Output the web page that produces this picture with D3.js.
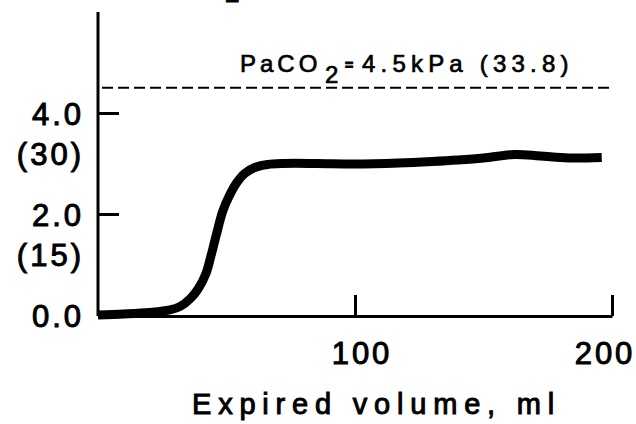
<!DOCTYPE html>
<html>
<head>
<meta charset="utf-8">
<script src="https://cdn.jsdelivr.net/npm/d3@7"></script>
<style>
    body { margin: 0; background: #fff; }
    svg { display: block; font-family: "Liberation Sans", Arial, sans-serif; }
</style>
</head>
<body>
<div id="chart"></div>
<script>
'use strict';

// expired volume (ml) vs PCO2 (kPa)
var volume = [0, 10, 20, 28, 32, 36, 39, 42, 44, 46, 48.5, 51, 54, 57, 61, 66, 72, 85, 100, 117, 130, 140, 150, 162, 172, 183, 196];
var pco2 = [0, 0.02, 0.05, 0.1, 0.17, 0.33, 0.52, 0.82, 1.18, 1.58, 2.05, 2.35, 2.62, 2.8, 2.92, 2.98, 3.0, 3.0, 2.99, 3.01, 3.04, 3.07, 3.11, 3.18, 3.15, 3.11, 3.12];

var xTicks = [100, 200];
var xTickShift = [5, -9];
var yTicks = [0, 2, 4];
var yTickLabels = ['0.0', '2.0', '4.0'];
var yMmHgLabels = ['', '(15)', '(30)'];

var paco2 = 4.5;
var xTitle = 'Expired volume, ml';

var width = 636,
    height = 424;

var x = d3.scaleLinear()
    .domain([0, 200])
    .range([98, 612]);

var y = d3.scaleLinear()
    .domain([0, 6])
    .range([315, 12]);

var svg = d3.select('#chart').append('svg')
    .attr('width', width)
    .attr('height', height);

function inkText(sel, size, spacing) {
    sel.attr('font-size', size)
        .attr('letter-spacing', spacing)
        .attr('fill', '#000')
        .attr('stroke', '#000')
        .attr('stroke-width', 1);
}

// cut-off title, only the foot of its subscript shows
svg.append('text')
    .attr('x', 225)
    .attr('y', 2)
    .call(inkText, 26, 0)
    .text('2');

// y axis
var yAxis = svg.append('g')
    .attr('transform', 'translate(' + x(0) + ',0)')
    .call(d3.axisLeft(y)
        .tickValues(yTicks)
        .tickSize(-21)
        .tickSizeOuter(0)
        .tickPadding(14)
        .tickFormat(function (d, i) { return yTickLabels[i]; }));

yAxis.select('.domain')
    .attr('d', 'M0,' + y(6) + 'V' + (y(0) + 1))
    .attr('stroke-width', 3);
yAxis.selectAll('.tick line').attr('stroke-width', 3);
yAxis.selectAll('.tick text')
    .call(inkText, 31, 3)
    .attr('dy', '0.36em');

yAxis.selectAll('.tick').append('text')
    .attr('x', -14)
    .attr('dy', '1.66em')
    .attr('text-anchor', 'end')
    .call(inkText, 31, 3)
    .text(function (d, i) { return yMmHgLabels[i]; });

// x axis
var xAxis = svg.append('g')
    .attr('transform', 'translate(0,' + (y(0) + 1) + ')')
    .call(d3.axisBottom(x)
        .tickValues(xTicks)
        .tickSize(-21)
        .tickSizeOuter(0)
        .tickPadding(26)
        .tickFormat(d3.format('d')));

xAxis.select('.domain').attr('stroke-width', 3);
xAxis.selectAll('.tick line').attr('stroke-width', 3);
xAxis.selectAll('.tick text')
    .call(inkText, 31, 3)
    .attr('x', function (d, i) { return xTickShift[i] + 1.5; });

svg.append('text')
    .attr('x', 192)
    .attr('y', 414)
    .call(inkText, 29, 6.8)
    .text(xTitle);

// arterial PCO2 reference line
svg.append('line')
    .attr('x1', x(0) + 4)
    .attr('x2', x(200))
    .attr('y1', y(paco2))
    .attr('y2', y(paco2))
    .attr('stroke', '#000')
    .attr('stroke-width', 2)
    .attr('stroke-dasharray', '11,5');

var note = svg.append('g');

note.append('text').attr('x', 240).attr('y', 72).call(inkText, 24, 4).attr('stroke-width', 0.7).text('PaCO');
note.append('text').attr('x', 325).attr('y', 83).call(inkText, 24, 0).attr('stroke-width', 0.7).text('2');
note.append('text').attr('x', 345).attr('y', 70).call(inkText, 14, 0).attr('font-weight', 'bold').text('=');
note.append('text').attr('x', 362).attr('y', 72).call(inkText, 24, 5.2).attr('stroke-width', 0.7)
    .text(paco2.toFixed(1) + 'kPa (33.8)');

// expired CO2 trace
var line = d3.line()
    .x(function (d) { return x(d[0]); })
    .y(function (d) { return y(d[1]); })
    .curve(d3.curveCatmullRom.alpha(0.5));

svg.append('path')
    .datum(volume.map(function (v, i) { return [v, pco2[i]]; }))
    .attr('d', line)
    .attr('fill', 'none')
    .attr('stroke', '#000')
    .attr('stroke-width', 9)
    .attr('stroke-linejoin', 'round');
</script>
</body>
</html>
